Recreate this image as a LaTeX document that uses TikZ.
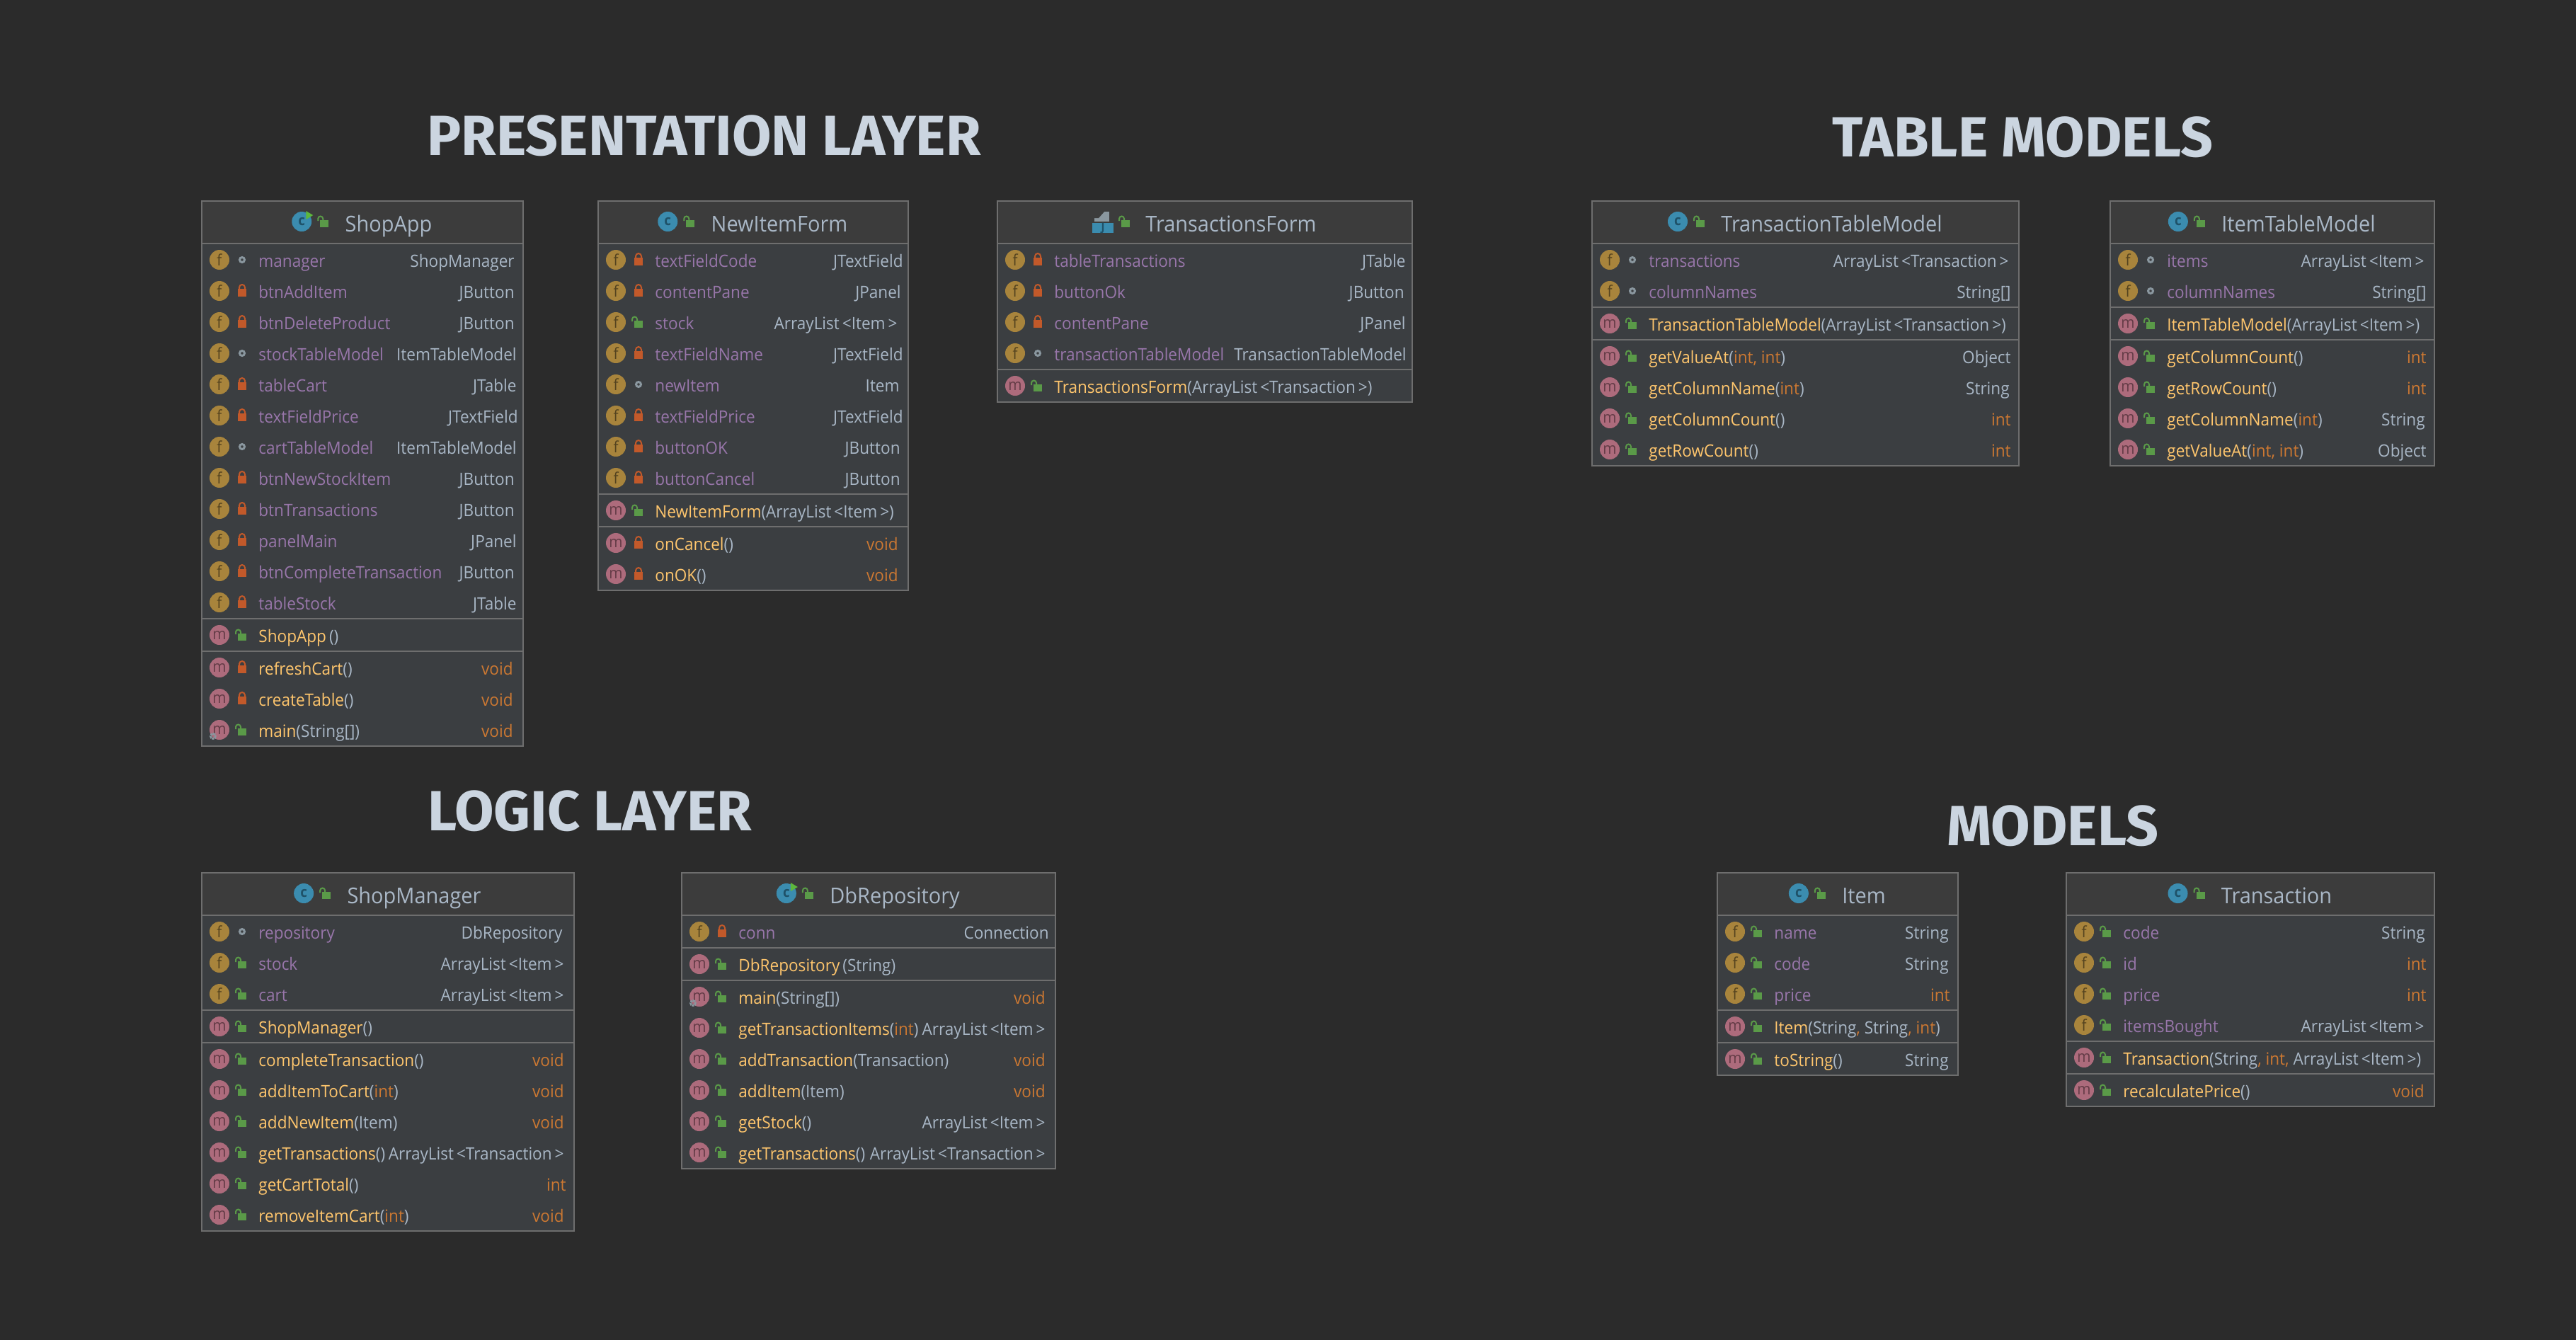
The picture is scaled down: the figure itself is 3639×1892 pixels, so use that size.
\documentclass[tikz,border=0pt]{standalone}
\usepackage{fontspec}
\setmainfont[FakeStretch=0.94]{Open Sans}
\newfontfamily\headfont[FakeStretch=1.005]{Fira Sans}
\usetikzlibrary{calc}

\definecolor{bgcol}{HTML}{2B2B2B}
\definecolor{headcol}{HTML}{3C3C3C}
\definecolor{bodycol}{HTML}{3B3E41}
\definecolor{linecol}{HTML}{6E6E6E}
\definecolor{titlecol}{HTML}{CBD5E0}
\definecolor{fieldcol}{HTML}{9876AA}
\definecolor{methodcol}{HTML}{FFC66D}
\definecolor{typecol}{HTML}{A9B7C6}
\definecolor{primcol}{HTML}{CC7832}
\definecolor{fillf}{HTML}{A8843C}
\definecolor{textf}{HTML}{54431F}
\definecolor{fillm}{HTML}{AD6B7C}
\definecolor{textm}{HTML}{643C47}
\definecolor{fillc}{HTML}{3B8CAF}
\definecolor{textc}{HTML}{1F5269}
\definecolor{openlock}{HTML}{5A9A48}
\definecolor{shutlock}{HTML}{C2592A}
\definecolor{pkgcol}{HTML}{8A979F}
\definecolor{runcol}{HTML}{5DB83C}

\tikzset{
  boxline/.style={draw=linecol, line width=1pt},
  heading/.style={anchor=base west, inner sep=0pt, text=titlecol, font=\headfont\bfseries\fontsize{40}{40}\selectfont},
  classtitle/.style={anchor=base, inner sep=0pt, text=typecol, font=\fontsize{15.4}{15.4}\selectfont},
  membername/.style={anchor=base west, inner sep=0pt, font=\fontsize{12}{12}\selectfont},
  membertype/.style={anchor=base east, inner sep=0pt, text=typecol, font=\fontsize{12}{12}\selectfont},
  roundicon/.style={circle, inner sep=0pt, minimum size=14pt, font=\fontsize{11}{11}\selectfont},
  iconf/.style={roundicon, fill=fillf, text=textf},
  iconm/.style={roundicon, fill=fillm, text=textm},
  iconc/.style={roundicon, fill=fillc, text=textc, font=\bfseries\fontsize{10}{10}\selectfont},
  open/.pic={
    \fill[openlock] (-6,-2) rectangle (6,8);
    \draw[openlock, line width=1pt] (-9,-1) -- (-9,-4) arc (180:360:3.5) -- (-2,-2);
  },
  shut/.pic={
    \fill[shutlock] (-6,-3) rectangle (6,8);
    \draw[shutlock, line width=1pt] (-4,-3) -- (-4,-5) arc (180:360:4) -- (4,-3);
  },
  pkg/.pic={
    \draw[pkgcol, line width=1.5pt] (0,0) circle (3.5);
  },
}

\newcount\rowy
\newcommand{\plainicon}{\node[iconc] (\clsId-icon) at ($(\clsId-title.base west)+(-61,-14)$) {c};}
\newcommand{\runicon}{%
  \plainicon
  \fill[runcol] ($(\clsId-icon)+(6,-15)$) -- ($(\clsId-icon)+(16,-9)$) -- ($(\clsId-icon)+(6,-3)$) -- cycle;}
\newcommand{\formicon}{%
  \coordinate (\clsId-icon) at ($(\clsId-title.base west)+(-60,-14)$);
  \fill[pkgcol] ($(\clsId-icon)+(-12,-14)$) rectangle ($(\clsId-icon)+(9,0)$);
  \fill[headcol] ($(\clsId-icon)+(-12,-14)$) -- ($(\clsId-icon)+(2,-14)$) -- ($(\clsId-icon)+(-6,-5)$) -- ($(\clsId-icon)+(-12,-5)$) -- cycle;
  \node[inner sep=0pt, fill=fillc, minimum width=15pt, minimum height=7pt, text=textc, font=\bfseries\fontsize{8}{8}\selectfont] (\clsId-form) at ($(\clsId-icon)+(0,9)$) {J};}

% #1 icon macro, #2 id, #3 left, #4 right, #5 top, #6 bottom, #7 title
\newcommand{\umlclass}[7][\plainicon]{
  \def\clsId{#2}\def\clsL{#3}\def\clsR{#4}
  \rowy=\numexpr#5+83\relax
  \fill[bodycol] (#3,#5) rectangle (#4,#6);
  \fill[headcol] (#3,#5) rectangle (#4,#5+60);
  \draw[boxline] (#3,#5) rectangle (#4,#6);
  \draw[boxline] (#3,#5+60) -- (#4,#5+60);
  \node[classtitle] (#2-title) at ({(#3+#4)/2+37},#5+43) {#7};
  #1
  \pic at ($(#2-icon)+(32,0)$) {open};
}
% [right inset] visibility, name, type
\newcommand{\field}[4][12]{
  \node[iconf] (\clsId-f\the\rowy) at (\clsL+25,\the\rowy) {f};
  \pic at (\clsL+57,\the\rowy) {#2};
  \node[membername, text=fieldcol] (\clsId-n\the\rowy) at (\clsL+80,\the\rowy+10) {#3};
  \node[membertype] (\clsId-t\the\rowy) at (\clsR-#1,\the\rowy+10) {#4};
  \advance\rowy by 44
}
% [right inset] visibility, name, arguments, type
\newcommand{\method}[5][12]{
  \node[iconm] (\clsId-m\the\rowy) at (\clsL+25,\the\rowy) {m};
  \pic at (\clsL+57,\the\rowy) {#2};
  \node[membername] (\clsId-n\the\rowy) at (\clsL+80,\the\rowy+10) {\textcolor{methodcol}{#3}\textcolor{typecol}{#4}};
  \node[membertype] (\clsId-t\the\rowy) at (\clsR-#1,\the\rowy+10) {#5};
  \advance\rowy by 44
}
\newcommand{\staticmark}{
  \draw[pkgcol, line width=1.4pt, dash pattern=on 1.5pt off 0.5pt] (\clsL+16,\the\rowy-35) circle (3.5);
}
\newcommand{\groupline}{
  \draw[boxline] (\clsL,\the\rowy-21) -- (\clsR,\the\rowy-21);
  \advance\rowy by 2
}
\newcommand{\prim}[1]{\textcolor{primcol}{#1}}
\newcommand{\alist}[1]{ArrayList\thinspace<#1\thinspace>}

\begin{document}
\begin{tikzpicture}[x=0.5pt, y=-0.5pt]
  \useasboundingbox (0,0) rectangle (3639,1892);
  \fill[bgcol] (-10,-10) rectangle (3649,1902);

  \node[heading] (presentation) at (603,219) {PRESENTATION LAYER};
  \node[heading] (tablemodels) at (2588,221) {TABLE MODELS};
  \node[heading] (logic) at (604,1173) {LOGIC LAYER};
  \node[heading] (models) at (2750,1194) {MODELS};

  \umlclass[\runicon]{ShopApp}{285}{739}{284}{1054}{ShopApp}
  \field{pkg}{manager}{ShopManager}
  \field{shut}{btnAddItem}{JButton}
  \field{shut}{btnDeleteProduct}{JButton}
  \field[9]{pkg}{stockTableModel}{ItemTableModel}
  \field[9]{shut}{tableCart}{JTable}
  \field[7]{shut}{textFieldPrice}{JTextField}
  \field[9]{pkg}{cartTableModel}{ItemTableModel}
  \field{shut}{btnNewStockItem}{JButton}
  \field{shut}{btnTransactions}{JButton}
  \field[9]{shut}{panelMain}{JPanel}
  \field{shut}{btnCompleteTransaction}{JButton}
  \field[9]{shut}{tableStock}{JTable}
  \groupline
  \method{open}{ShopApp}{\,()}{}
  \groupline
  \method[14]{shut}{refreshCart}{()}{\prim{void}}
  \method[14]{shut}{createTable}{()}{\prim{void}}
  \method[14]{open}{main}{(String[])}{\prim{void}}
  \staticmark

  \umlclass{NewItemForm}{845}{1283}{284}{834}{NewItemForm}
  \field[7]{shut}{textFieldCode}{JTextField}
  \field[10]{shut}{contentPane}{JPanel}
  \field[15]{open}{stock}{\alist{Item}}
  \field[7]{shut}{textFieldName}{JTextField}
  \field{pkg}{newItem}{Item}
  \field[7]{shut}{textFieldPrice}{JTextField}
  \field[11]{shut}{buttonOK}{JButton}
  \field[11]{shut}{buttonCancel}{JButton}
  \groupline
  \method{open}{NewItemForm}{(\alist{Item})}{}
  \groupline
  \method[14]{shut}{onCancel}{()}{\prim{void}}
  \method[14]{shut}{onOK}{()}{\prim{void}}

  \umlclass[\formicon]{TransactionsForm}{1409}{1995}{284}{568}{TransactionsForm}
  \field[9]{shut}{tableTransactions}{JTable}
  \field[11]{shut}{buttonOk}{JButton}
  \field[9]{shut}{contentPane}{JPanel}
  \field[8]{pkg}{transactionTableModel}{TransactionTableModel}
  \groupline
  \method{open}{TransactionsForm}{(\alist{Transaction})}{}

  \umlclass{TransactionTableModel}{2249}{2852}{284}{658}{TransactionTableModel}
  \field[14]{pkg}{transactions}{\alist{Transaction}}
  \field[11]{pkg}{columnNames}{String[]}
  \groupline
  \method{open}{TransactionTableModel}{(\alist{Transaction})}{}
  \groupline
  \method[11]{open}{getValueAt}{(\prim{int, int})}{Object}
  \method[13]{open}{getColumnName}{(\prim{int})}{String}
  \method[11]{open}{getColumnCount}{()}{\prim{int}}
  \method[11]{open}{getRowCount}{()}{\prim{int}}

  \umlclass{ItemTableModel}{2981}{3439}{284}{658}{ItemTableModel}
  \field[14]{pkg}{items}{\alist{Item}}
  \field[11]{pkg}{columnNames}{String[]}
  \groupline
  \method{open}{ItemTableModel}{(\alist{Item})}{}
  \groupline
  \method[11]{open}{getColumnCount}{()}{\prim{int}}
  \method[11]{open}{getRowCount}{()}{\prim{int}}
  \method[13]{open}{getColumnName}{(\prim{int})}{String}
  \method[11]{open}{getValueAt}{(\prim{int, int})}{Object}

  \umlclass{ShopManager}{285}{811}{1233}{1739}{ShopManager}
  \field[16]{pkg}{repository}{DbRepository}
  \field[14]{open}{stock}{\alist{Item}}
  \field[14]{open}{cart}{\alist{Item}}
  \groupline
  \method{open}{ShopManager}{()}{}
  \groupline
  \method[14]{open}{completeTransaction}{()}{\prim{void}}
  \method[14]{open}{addItemToCart}{(\prim{int})}{\prim{void}}
  \method[14]{open}{addNewItem}{(Item)}{\prim{void}}
  \method[14]{open}{getTransactions}{()}{\alist{Transaction}}
  \method[11]{open}{getCartTotal}{()}{\prim{int}}
  \method[14]{open}{removeItemCart}{(\prim{int})}{\prim{void}}

  \umlclass[\runicon]{DbRepository}{963}{1491}{1233}{1651}{DbRepository}
  \field[9]{shut}{conn}{Connection}
  \groupline
  \method{open}{DbRepository}{\,(String)}{}
  \groupline
  \method[14]{open}{main}{(String[])}{\prim{void}}
  \staticmark
  \method[14]{open}{getTransactionItems}{(\prim{int})}{\alist{Item}}
  \method[14]{open}{addTransaction}{(Transaction)}{\prim{void}}
  \method[14]{open}{addItem}{(Item)}{\prim{void}}
  \method[14]{open}{getStock}{()}{\alist{Item}}
  \method[14]{open}{getTransactions}{()}{\alist{Transaction}}

  \umlclass{Item}{2426}{2766}{1233}{1519}{Item}
  \field[13]{open}{name}{String}
  \field[13]{open}{code}{String}
  \field[11]{open}{price}{\prim{int}}
  \groupline
  \method{open}{Item}{(String\prim{,} String\prim{, int})}{}
  \groupline
  \method[13]{open}{toString}{()}{String}

  \umlclass{Transaction}{2919}{3439}{1233}{1563}{Transaction}
  \field[13]{open}{code}{String}
  \field[11]{open}{id}{\prim{int}}
  \field[11]{open}{price}{\prim{int}}
  \field[14]{open}{itemsBought}{\alist{Item}}
  \groupline
  \method{open}{Transaction}{(String\prim{, int,} \alist{Item})}{}
  \groupline
  \method[14]{open}{recalculatePrice}{()}{\prim{void}}
\end{tikzpicture}
\end{document}
